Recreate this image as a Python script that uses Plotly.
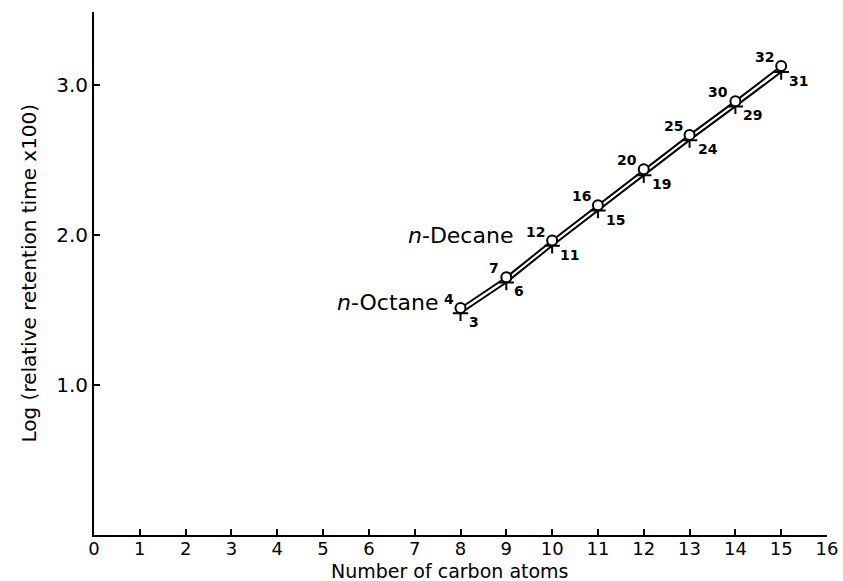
import plotly.graph_objects as go

carbon_atoms = [8, 9, 10, 11, 12, 13, 14, 15]
log_rt_circle = [1.515, 1.72, 1.965, 2.20, 2.44, 2.67, 2.895, 3.13]
log_rt_cross = [1.48, 1.685, 1.93, 2.165, 2.40, 2.635, 2.86, 3.09]
circle_labels = ["4", "7", "12", "16", "20", "25", "30", "32"]
cross_labels = ["3", "6", "11", "15", "19", "24", "29", "31"]
name_labels = ["<i>n</i>-Octane", "<i>n</i>-Decane"]
name_x = [8, 10]
name_y = [1.515, 1.965]
x_ticks = list(range(0, 17))
y_ticks = [1.0, 2.0, 3.0]
y_tick_text = ["1.0", "2.0", "3.0"]
x_title = "Number of carbon atoms"
y_title = "Log (relative retention time x100)"

FONT = "DejaVu Sans"

fig = go.Figure()
fig.add_trace(go.Scatter(
    x=carbon_atoms, y=log_rt_cross, mode="lines+markers",
    line=dict(color="black", width=2),
    marker=dict(symbol="cross-thin", size=11, line=dict(color="black", width=2)),
    showlegend=False, hoverinfo="skip"))
fig.add_trace(go.Scatter(
    x=carbon_atoms, y=log_rt_circle, mode="lines+markers",
    line=dict(color="black", width=2),
    marker=dict(symbol="circle", size=10, color="white", line=dict(color="black", width=2)),
    showlegend=False, hoverinfo="skip"))

annotations = []
for x, y, t in zip(carbon_atoms, log_rt_circle, circle_labels):
    annotations.append(dict(x=x, y=y, text="<b>" + t + "</b>", showarrow=False, xanchor="right",
                            yanchor="middle", xshift=-5, yshift=9,
                            font=dict(family=FONT, size=14, color="black")))
for x, y, t in zip(carbon_atoms, log_rt_cross, cross_labels):
    annotations.append(dict(x=x, y=y, text="<b>" + t + "</b>", showarrow=False, xanchor="left",
                            yanchor="middle", xshift=6, yshift=-9,
                            font=dict(family=FONT, size=14, color="black")))
for x, y, t, dx in zip(name_x, name_y, name_labels, [-20, -37]):
    annotations.append(dict(x=x, y=y, text=t, showarrow=False, xanchor="right", yanchor="middle",
                            xshift=dx, yshift=5, font=dict(family=FONT, size=22, color="black")))
annotations.append(dict(x=0.485, y=0, xref="paper", yref="paper", text=x_title, showarrow=False,
                        xanchor="center", yanchor="middle", yshift=-36,
                        font=dict(family=FONT, size=19, color="black")))
annotations.append(dict(x=0, y=0.5, xref="paper", yref="paper", text=y_title, showarrow=False,
                        textangle=-90, xanchor="center", yanchor="middle", xshift=-66,
                        font=dict(family=FONT, size=20, color="black")))

fig.update_layout(
    width=843, height=581,
    margin=dict(l=94, r=16, t=12, b=46),
    paper_bgcolor="white", plot_bgcolor="white",
    annotations=annotations,
    xaxis=dict(range=[0, 16], tickvals=x_ticks, ticks="inside", ticklen=6, tickwidth=2,
               tickcolor="black", showline=True, linecolor="black", linewidth=2,
               showgrid=False, zeroline=False, automargin=False, ticklabelstandoff=-4,
               tickfont=dict(family=FONT, size=18, color="black")),
    yaxis=dict(range=[0, 3.49], tickvals=y_ticks, ticktext=y_tick_text, ticks="inside",
               ticklen=6, tickwidth=2, tickcolor="black", showline=True, linecolor="black",
               linewidth=2, showgrid=False, zeroline=False, automargin=False,
               tickfont=dict(family=FONT, size=20, color="black")),
)
fig.write_html("out.html")
